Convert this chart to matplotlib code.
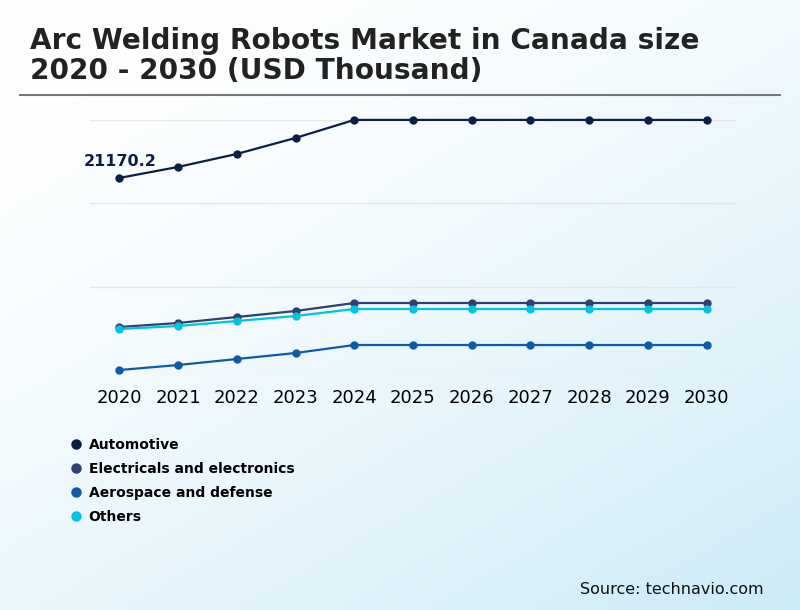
import numpy as np
import matplotlib.pyplot as plt
from matplotlib.lines import Line2D

# Data (USD thousand)
years = [2020, 2021, 2022, 2023, 2024, 2025, 2026, 2027, 2028, 2029, 2030]
automotive = [21170.2, 22226, 23474, 25010, 26738, 26738, 26738, 26738, 26738, 26738, 26738]
electricals = [6866, 7250, 7826, 8402, 9170, 9170, 9170, 9170, 9170, 9170, 9170]
aerospace = [2738, 3218, 3794, 4370, 5138, 5138, 5138, 5138, 5138, 5138, 5138]
others = [6674, 6962, 7442, 7922, 8594, 8594, 8594, 8594, 8594, 8594, 8594]

series_names = ['Automotive', 'Electricals and electronics', 'Aerospace and defense', 'Others']
series_values = [automotive, electricals, aerospace, others]
colors = ['#0b1f45', '#2f3f70', '#0d5aa7', '#00c3e3']

fig = plt.figure(figsize=(8, 6.1), dpi=100)

# Background gradient (white top-left -> light blue bottom-right)
bg = fig.add_axes([0, 0, 1, 1], zorder=-10)
gx, gy = np.meshgrid(np.linspace(0, 1, 200), np.linspace(0, 1, 200))
t = np.clip((gx * 0.6 + gy * 0.8) / 1.4, 0, 1) ** 1.6
c0 = np.array([1.0, 1.0, 1.0])
c1 = np.array([0.80, 0.92, 0.97])
img = c0[None, None, :] * (1 - t[..., None]) + c1[None, None, :] * t[..., None]
bg.imshow(img, extent=[0, 1, 0, 1], aspect='auto', origin='upper')
bg.axis('off')

# Title and rule
fig.text(0.0375, 0.956, 'Arc Welding Robots Market in Canada size\n2020 - 2030 (USD Thousand)',
         fontsize=20.2, fontweight='bold', color='#222222',
         va='top', ha='left', linespacing=1.1)
fig.add_artist(Line2D([0.025, 0.975], [0.844, 0.844], color='#777777', lw=1.5))

ax = fig.add_axes([0.1125, 0.3934, 0.8075, 0.41])
ax.patch.set_alpha(0)
for name, vals, col in zip(series_names, series_values, colors):
    ax.plot(years, vals, color=col, lw=1.6, marker='o', markersize=5, label=name, clip_on=False)

lo = min(aerospace)
hi = max(automotive)
ax.set_ylim(lo, hi)
ax.set_yticks(np.linspace(lo, hi, 4))
ax.set_yticklabels([])
ax.set_xlim(2019.5, 2030.5)
ax.set_xticks(years)
ax.tick_params(axis='x', labelsize=13, length=0, pad=14)
ax.tick_params(axis='y', length=0)
ax.grid(axis='y', color='#e6e6e6', lw=1)
for s in ax.spines.values():
    s.set_visible(False)

ax.annotate('%.1f' % automotive[0], (years[0], automotive[0]), xytext=(-26, 8.5),
            textcoords='offset points', fontsize=11.5, fontweight='bold', color='#0b1f45')

# Legend
handles = [Line2D([], [], ls='none', marker='o', markersize=6.5, color=c) for c in colors]
fig.legend(handles, series_names, loc='upper left', bbox_to_anchor=(0.069, 0.303),
           frameon=False, handletextpad=0.3, labelspacing=0.72,
           prop={'weight': 'bold', 'size': 10}, handlelength=1.2)

fig.text(0.954, 0.034, 'Source: technavio.com', fontsize=11.5, ha='right', va='center', color='#111111')

fig.savefig('out.png', dpi=100)
